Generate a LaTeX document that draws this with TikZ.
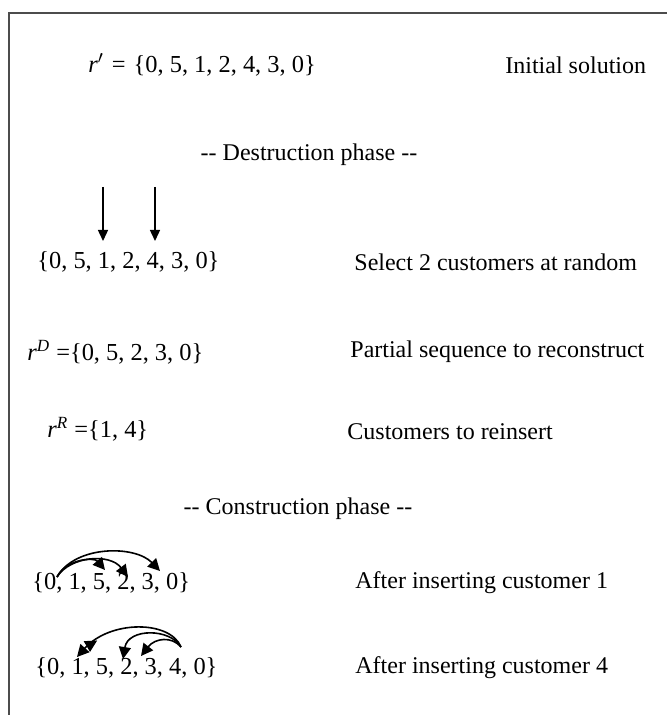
\documentclass[tikz,border=0pt]{standalone}
\usepackage{fontspec}
\setmainfont{Liberation Serif}
\usetikzlibrary{arrows.meta, decorations.markings}
\tikzset{
  seqtxt/.style={anchor=west, inner sep=0pt, font=\fontsize{12.2}{14}\selectfont},
  desc/.style  ={anchor=west, inner sep=0pt, font=\fontsize{12}{14}\selectfont},
  phase/.style ={inner sep=0pt, font=\fontsize{12}{14}\selectfont},
  frame/.style ={line width=1pt, draw=black!70},
  pick/.style  ={line width=0.7pt, -{Triangle[width=5pt, length=5.5pt]}},
  hop/.style   ={line width=0.8pt, -{Triangle[width=6pt, length=6pt]}},
  backhop/.style={line width=0.8pt, {Triangle[width=6pt, length=6pt]}-,
    postaction={decorate}, decoration={markings,
      mark=at position 0.22 with {\arrow{Triangle[width=6pt, length=6pt]}}}},
}

\begin{document}
\begin{tikzpicture}[x=0.5pt, y=-0.5pt]

  \useasboundingbox (0,0) rectangle (667,715);
  \draw[frame] (9,715) -- (9,13) -- (667,13);

  \node[seqtxt] (init)    at (88,65)  {\textit{r}$'$\hspace{4pt}=\hspace{4pt}\{0, 5, 1, 2, 4, 3, 0\}};
  \node[desc]   (initlbl) at (505,65) {Initial solution};

  \node[phase]  (destr)   at (309,155) {-{}- Destruction phase -{}-};

  \node[seqtxt] (sel)     at (37,262)  {\{0, 5, 1, 2, 4, 3, 0\}};
  \node[desc]   (sellbl)  at (354,262) {Select 2 customers at random};

  \node[seqtxt] (rd)      at (27,352)  {\textit{r}\textsuperscript{\textit{D}}\hspace{3pt}=\{0, 5, 2, 3, 0\}};
  \node[desc]   (rdlbl)   at (350,352) {Partial sequence to reconstruct};

  \node[seqtxt] (rr)      at (47,429)  {\textit{r}\textsuperscript{\textit{R}}\hspace{3pt}=\{1, 4\}};
  \node[desc]   (rrlbl)   at (347,432) {Customers to reinsert};

  \node[phase]  (constr)  at (298,509) {-{}- Construction phase -{}-};

  \node[seqtxt] (ins1)    at (32,583)  {\{0, 1, 5, 2, 3, 0\}};
  \node[desc]   (ins1lbl) at (355,583) {After inserting customer 1};

  \node[seqtxt] (ins2)    at (35,668)  {\{0, 1, 5, 2, 3, 4, 0\}};
  \node[desc]   (ins2lbl) at (355,668) {After inserting customer 4};

  % picked customers
  \coordinate (pickA) at (103,187);
  \coordinate (cust1) at (103,241);
  \coordinate (pickB) at (155,187);
  \coordinate (cust4) at (155,241);
  \draw[pick] (pickA) -- (cust1);
  \draw[pick] (pickB) -- (cust4);

  % moves after inserting 1
  \coordinate (fromA) at (57,577);
  \coordinate (toA5)  at (105,570);
  \coordinate (toA2)  at (128,577);
  \coordinate (toA3)  at (160,571);
  \draw[hop] (fromA) .. controls (75,545) and (135,545) .. (toA3);
  \draw[hop] (fromA) .. controls (66,559) and (94,557) .. (toA5);
  \draw[hop] (fromA) .. controls (70,556) and (110,553) .. (toA2);

  % moves after inserting 4
  \coordinate (fromB) at (181,647);
  \coordinate (toB1)  at (77,657);
  \coordinate (toB2)  at (123,659);
  \coordinate (toB3)  at (141,656);
  \draw[backhop] (toB1) .. controls (110,620) and (170,620) .. (fromB);
  \draw[hop] (fromB) .. controls (170,628) and (128,628) .. (toB2);
  \draw[hop] (fromB) .. controls (172,636) and (155,638) .. (toB3);

\end{tikzpicture}
\end{document}
